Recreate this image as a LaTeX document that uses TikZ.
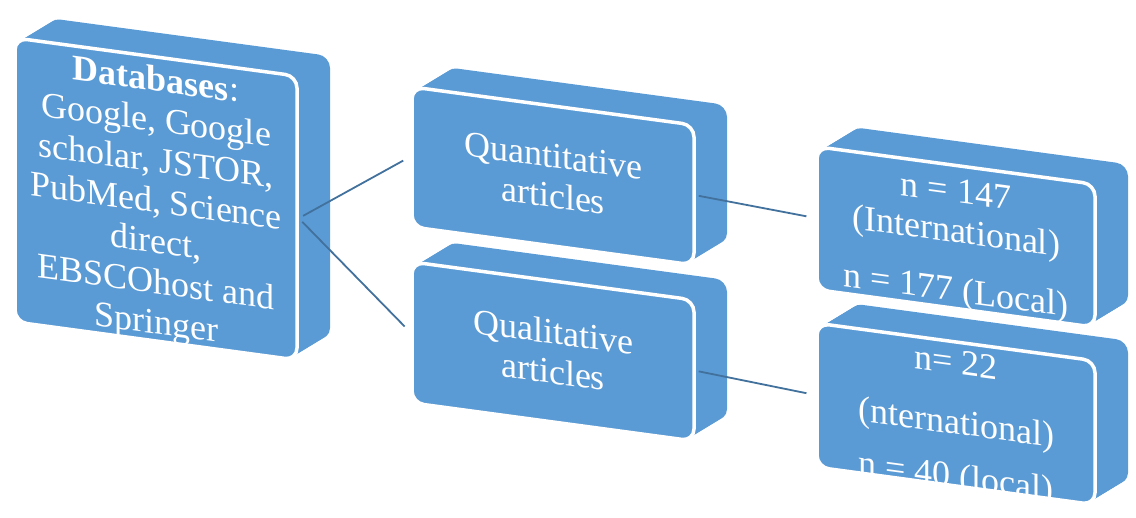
\documentclass[tikz,border=0pt]{standalone}
\usepackage{fontspec}
\setmainfont{Liberation Serif}
\usetikzlibrary{positioning}
\definecolor{boxblue}{RGB}{91,155,213}
\definecolor{linkblue}{RGB}{65,113,156}

\tikzset{
  face/.style={draw=white, line width=3.5pt, fill=boxblue, rounded corners=12pt,
    inner sep=0pt, transform shape},
  words/.style={text=white, align=center, inner sep=0pt, transform shape},
  textdb/.style={words, font=\fontsize{36}{40.5}\selectfont},
  textn/.style={words, font=\fontsize{36}{40}\selectfont},
  link/.style={draw=linkblue, line width=1.8pt}
}

\begin{document}
\begin{tikzpicture}[x=1pt, y=1pt]

\def \slant {-0.135}
\def \dx {33} % depth of the slabs
\def \dy {20}

\useasboundingbox (0,0) rectangle (1136,518);

\foreach \nm/\cx/\cy/\w/\h/\sp/\ty/\txt in {
  db/156/319/282/284/textdb/-5/{{\bfseries Databases}:\\Google, Google\\scholar, JSTOR,\\PubMed, Science\\direct,\\EBSCOhost and\\Springer},
  qual/553/166.5/282/141/textn/0/{Qualitative\\articles},
  quant/553/342/282/140/textn/0/{Quantitative\\articles},
  qualn/956/104/278/144/textn/-9/{n= 22\\[20pt](nternational)\\[14pt]n = 40 (local)},
  quantn/956/281/278/143/textn/-7/{n = 147\\(International)\\[19pt]n = 177 (Local)}}
{
  % body
  \foreach \t in {0,...,20}
    \fill[boxblue, rounded corners=12pt, shift={(\cx+\t*\dx/20,\cy+\t*\dy/20)}, yslant=\slant]
      (-\w/2,-\h/2) rectangle (\w/2,\h/2);
  % front
  \begin{scope}[shift={(\cx,\cy)}, yslant=\slant]
    \node[face, minimum width=\w, minimum height=\h] (\nm) at (0,0) {};
    \node[\sp] (\nm-txt) at (0,\ty) {\txt};
  \end{scope}
}

\draw[link, shorten <=5pt, shorten >=8pt] (db.east) -- (quant.west);
\draw[link, shorten <=5pt, shorten >=8pt] (db.east) -- (qual.west);
\draw[link, shorten <=3pt, shorten >=9pt] (quant.east) -- (quantn.west);
\draw[link, shorten <=3pt, shorten >=9pt] (qual.east) -- (qualn.west);

\end{tikzpicture}
\end{document}
